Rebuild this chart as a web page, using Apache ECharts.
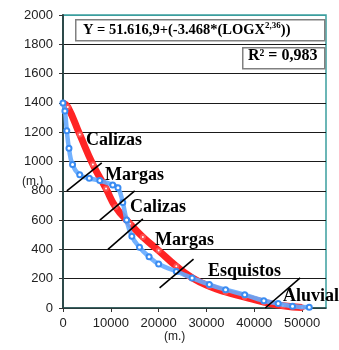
<!DOCTYPE html>
<html><head><meta charset="utf-8">
<script src="https://cdn.jsdelivr.net/npm/echarts@6/dist/echarts.min.js"></script>
<style>html,body{margin:0;padding:0;background:#fff}#c{width:339px;height:350px}</style>
</head><body><div id="c"></div>
<script>
// Observed profile (blue)
const obsX = [0, 400, 800, 1250, 2000, 3500, 5500, 7700, 10400, 11500, 12500, 13300, 14400, 16000, 18000, 20000, 23700, 27000, 30600, 34000, 38000, 42000, 45000, 48000, 51500];
const obsY = [1400, 1345, 1210, 1090, 980, 910, 885, 870, 840, 820, 720, 600, 490, 415, 350, 300, 250, 205, 160, 125, 90, 50, 30, 12, 5];
// Fitted curve (red)
const fitX = [0, 1000, 3500, 6250, 9000, 11000, 14000, 16700, 20000, 23700, 27000, 30600, 34000, 38000, 42000, 46000, 50000];
const fitY = [1400, 1372, 1185, 980, 815, 690, 575, 485, 392, 285, 207, 148, 110, 75, 40, 15, 3];
// Lithology boundaries (start/end points)
const boundaries = [
  [[800, 800], [8100, 990]],
  [[7700, 600], [15000, 800]],
  [[9400, 400], [16700, 608]],
  [[20200, 137], [27300, 334]],
  [[42300, 0], [49600, 205]]
];
const lithoLabels = ['Calizas', 'Margas', 'Calizas', 'Margas', 'Esquistos', 'Aluvial'];
const yTicks = [0, 200, 400, 600, 800, 1000, 1200, 1400, 1600, 1800, 2000];
const xTicks = [0, 10000, 20000, 30000, 40000, 50000];
const equation = 'Y = 51.616,9+(-3.468*(LOGX';
const eqExp = '2,36';
const r2Text = 'R² = 0,983';

const chart = echarts.init(document.getElementById('c'));
const zip = (xs, ys) => xs.map((x, i) => [x, ys[i]]);
const labelPos = [[86, 141], [105, 176], [130, 208], [155, 241], [208, 272], [283, 297]];
const serif = '"Liberation Serif","Times New Roman",serif';

const splitColors = yTicks.map((v, i) => i === yTicks.length - 1 ? '#3b9e9e' : '#1a1a1a');

const series = [
  {
    type: 'line', data: zip(fitX, fitY), smooth: true, z: 3,
    lineStyle: { color: '#ff2424', width: 7 },
    symbol: 'emptyCircle', symbolSize: 4,
    itemStyle: { color: '#ff5050', borderWidth: 1 }
  },
  {
    type: 'line', data: zip(obsX, obsY), smooth: true, z: 4,
    lineStyle: { color: '#64aaff', width: 4.5, opacity: 0.9 },
    symbol: 'emptyCircle', symbolSize: 5,
    itemStyle: { color: '#3a8cf2', borderWidth: 1 }
  }
];
boundaries.forEach(b => series.push({
  type: 'line', data: b, symbol: 'none', z: 6, silent: true,
  lineStyle: { color: '#000', width: 1.6 }
}));

const graphics = [];
lithoLabels.forEach((t, i) => graphics.push({
  type: 'text', left: labelPos[i][0], top: labelPos[i][1] - 10, z: 20,
  style: { text: t, font: 'bold 18px ' + serif, fill: '#000' }
}));
graphics.push({
  type: 'rect', left: 75, top: 19, z: 15,
  shape: { width: 249, height: 21 },
  style: { fill: '#fff', stroke: '#808080', lineWidth: 1.5 }
});
graphics.push({
  type: 'text', left: 83, top: 21, z: 16,
  style: {
    text: '{a|' + equation + '}{s|' + eqExp + '}{a|))}',
    rich: {
      a: { font: 'bold 14.5px ' + serif, fill: '#000', verticalAlign: 'bottom', lineHeight: 17 },
      s: { font: 'bold 9px ' + serif, fill: '#000', verticalAlign: 'top', lineHeight: 17 }
    }
  }
});
graphics.push({
  type: 'rect', left: 242, top: 47, z: 15,
  shape: { width: 82, height: 21 },
  style: { fill: '#fff', stroke: '#808080', lineWidth: 1.5 }
});
graphics.push({
  type: 'text', left: 248, top: 48, z: 16,
  style: { text: r2Text, font: 'bold 16px ' + serif, fill: '#000' }
});
graphics.push({
  type: 'text', left: 22, top: 176, z: 16,
  style: { text: '(m.)', font: '12px "Liberation Sans",Arial,sans-serif', fill: '#222' }
});
graphics.push({
  type: 'text', left: 164, top: 331, z: 16,
  style: { text: '(m.)', font: '12px "Liberation Sans",Arial,sans-serif', fill: '#222' }
});

chart.setOption({
  animation: false,
  grid: { left: 63, top: 15, right: 13, bottom: 42, show: true, borderColor: '#3b9e9e', borderWidth: 1.5, backgroundColor: 'transparent' },
  xAxis: {
    type: 'value', min: 0, max: 55000, interval: 10000,
    axisLine: { lineStyle: { color: '#2d4a4a', width: 1.5 } },
    axisTick: { show: true, length: 4, lineStyle: { color: '#333' } },
    axisLabel: { color: '#222', fontSize: 13, fontFamily: '"Liberation Sans",Arial,sans-serif', margin: 9, showMaxLabel: false,
      formatter: v => xTicks.includes(v) ? String(v) : '' },
    splitLine: { show: false }
  },
  yAxis: {
    type: 'value', min: 0, max: 2000, interval: 200,
    axisLine: { show: true, lineStyle: { color: '#2d4a4a', width: 2 } },
    axisTick: { show: true, length: 4, lineStyle: { color: '#333' } },
    axisLabel: { color: '#222', fontSize: 13, fontFamily: '"Liberation Sans",Arial,sans-serif', margin: 10,
      formatter: v => yTicks.includes(v) ? String(v) : '' },
    splitLine: { show: true, lineStyle: { color: splitColors, width: 1 } }
  },
  series: series,
  graphic: graphics
});
</script></body></html>
